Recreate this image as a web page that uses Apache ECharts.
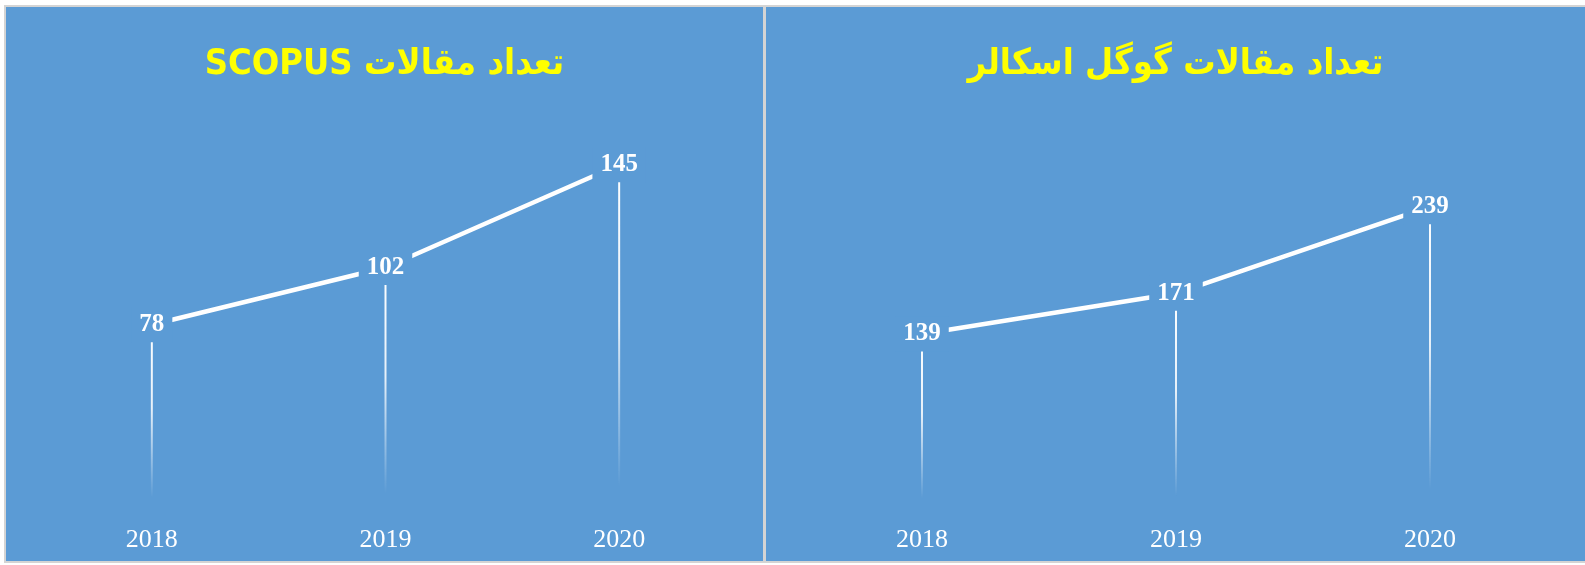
<!DOCTYPE html>
<html>
<head>
<meta charset="utf-8">
<script src="https://cdn.jsdelivr.net/npm/echarts@6/dist/echarts.min.js"></script>
<style>
    body { margin: 0; background: #fff; }
    .panel {
        position: absolute;
        top: 5px;
        height: 558px;
        box-sizing: border-box;
        border: 2px solid #d4d4d4;
        background: #5b9bd5;
    }
    #leftChart { left: 4px; width: 761px; }
    #rightChart { left: 764px; width: 823px; }
</style>
</head>
<body>
<div id="leftChart" class="panel"></div>
<div id="rightChart" class="panel"></div>
<script>
/* 数据 */
var years = ['2018', '2019', '2020'];
var scopusCount = [78, 102, 145];
var scholarCount = [139, 171, 239];
var scopusTitle = 'تعداد مقالات SCOPUS';
var scholarTitle = 'تعداد مقالات گوگل اسکالر';

var panelBg = '#5b9bd5';

// 标题为从右到左
function rtl(s) {
    return '\u202B' + s + '\u202C';
}

function drawPanel(domId, title, values, yMax, grid) {
    var chart = echarts.init(document.getElementById(domId));

    // 下垂线: 白色渐变到透明
    var dropColor = new echarts.graphic.LinearGradient(0, 0, 0, 1, [
        { offset: 0, color: 'rgba(255,255,255,1)' },
        { offset: 0.45, color: 'rgba(255,255,255,0.85)' },
        { offset: 0.93, color: 'rgba(255,255,255,0)' },
        { offset: 1, color: 'rgba(255,255,255,0)' }
    ]);

    var option = {
        animation: false,
        title: {
            text: rtl(title),
            left: 'center',
            top: 35,
            textStyle: {
                color: '#ffff00',
                fontFamily: 'DejaVu Sans Condensed',
                fontWeight: 'bold',
                fontSize: 36
            }
        },
        grid: grid,
        xAxis: {
            type: 'category',
            data: years,
            axisLine: { show: false },
            axisTick: { show: false },
            axisLabel: {
                color: '#fff',
                fontFamily: 'Liberation Serif',
                fontSize: 26,
                margin: 16
            }
        },
        yAxis: {
            type: 'value',
            min: 0,
            max: yMax,
            show: false,
            splitLine: { show: false }
        },
        series: [{
            type: 'bar',
            data: values,
            barWidth: 2,
            z: 1,
            itemStyle: { color: dropColor }
        }, {
            type: 'line',
            data: values,
            z: 3,
            symbol: 'circle',
            symbolSize: 2,
            itemStyle: { color: 'rgba(0,0,0,0)' },
            lineStyle: { color: '#fff', width: 4.5 },
            label: {
                show: true,
                position: 'inside',
                color: '#fff',
                fontFamily: 'Liberation Serif',
                fontWeight: 'bold',
                fontSize: 25,
                backgroundColor: panelBg,
                padding: [5, 8]
            }
        }]
    };
    chart.setOption(option);
    return chart;
}

drawPanel('leftChart', scopusTitle, scopusCount, 160, { left: 29, right: 27, top: 122, bottom: 50 });
drawPanel('rightChart', scholarTitle, scholarCount, 300, { left: 29, right: 28, top: 122, bottom: 50 });
</script>
</body>
</html>
